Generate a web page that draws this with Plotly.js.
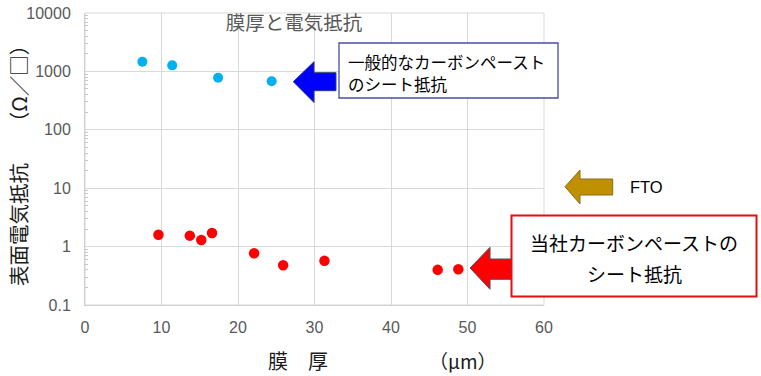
<!DOCTYPE html>
<html>
<head>
<meta charset="utf-8">
<script src="https://cdn.plot.ly/plotly-3.0.1.min.js"></script>
<style>html,body{margin:0;padding:0;background:#fff;}#chart{width:761px;height:376px;}</style>
</head>
<body>
<div id="chart"></div>
<script>
// ---- Data ----
const generalThickness = [7.5, 11.4, 17.4, 24.4];
const generalResistance = [1460, 1270, 780, 680];
const ourThickness = [9.6, 13.7, 15.2, 16.6, 22.1, 25.9, 31.3, 46.1, 48.8];
const ourResistance = [1.6, 1.54, 1.3, 1.71, 0.77, 0.48, 0.57, 0.40, 0.41];
const yTickVals = [0.1, 1, 10, 100, 1000, 10000];
const yTickText = ['0.1', '1', '10', '100', '1000', '10000'];
const yMinorDigits = [2, 3, 4, 5, 6, 7, 8, 9];
const yMinorDecades = [0.1, 1, 10, 100, 1000];
const chartTitle = '膜厚と電気抵抗';
const yTitleMain = '表面電気抵抗';
const yTitleUnit = '（Ω／□）';
const xTitleMain = '膜　厚';
const xTitleUnit = '（μm）';
const generalLabel1 = '一般的なカーボンペースト';
const generalLabel2 = 'のシート抵抗';
const ourLabel1 = '当社カーボンペーストの';
const ourLabel2 = 'シート抵抗';
const ftoLabel = 'FTO';

const yMinorVals = [];
yMinorDecades.forEach(d => yMinorDigits.forEach(k => yMinorVals.push(d * k)));

// ---- Layout geometry ----
const W = 761, H = 376;
const M = {l: 85, r: 217, t: 13, b: 71};
const PW = W - M.l - M.r, PH = H - M.t - M.b;
const px = x => (x - M.l) / PW;
const py = y => (H - M.b - y) / PH;
function arrowPath(pts) {
  return 'M' + pts.map(p => px(p[0]).toFixed(4) + ',' + py(p[1]).toFixed(4)).join(' L') + ' Z';
}

const cjk = '"Noto Sans CJK JP", "Noto Sans", sans-serif';
const latin = '"Liberation Sans", Arial, sans-serif';

const traces = [
  {x: generalThickness, y: generalResistance, type: 'scatter', mode: 'markers',
   marker: {color: '#00b0f0', size: 10}, hoverinfo: 'skip'},
  {x: ourThickness, y: ourResistance, type: 'scatter', mode: 'markers',
   marker: {color: '#ff0000', size: 10.5}, hoverinfo: 'skip'}
];

const layout = {
  width: W, height: H,
  margin: M,
  paper_bgcolor: '#fff', plot_bgcolor: '#fff',
  showlegend: false,
  font: {family: latin, color: '#595959'},
  title: {text: chartTitle, font: {family: cjk, size: 19.5, color: '#595959'},
          xref: 'container', yref: 'container', x: 294 / W, y: 1 - 23 / H,
          xanchor: 'center', yanchor: 'middle'},
  xaxis: {range: [0, 60], dtick: 10, showgrid: true, gridcolor: '#d9d9d9', gridwidth: 1,
          zeroline: false, showline: true, linecolor: '#cfcfcf', linewidth: 1,
          tickfont: {family: latin, size: 16, color: '#595959'}, ticks: '', ticklabelstandoff: 8},
  yaxis: {type: 'log', range: [-1, 4], tickmode: 'array', tickvals: yTickVals, ticktext: yTickText,
          showgrid: true, gridcolor: '#d9d9d9', gridwidth: 1,
          zeroline: false, showline: true, linecolor: '#cfcfcf', linewidth: 1,
          tickfont: {family: latin, size: 16, color: '#595959'}, ticks: '', ticklabelstandoff: 10,
          minor: {tickmode: 'array', tickvals: yMinorVals, ticks: 'inside', ticklen: 3,
                  tickcolor: '#c8c8c8', tickwidth: 1, showgrid: false}},
  shapes: [
    {type: 'rect', xref: 'paper', yref: 'paper', layer: 'below',
     x0: 0, x1: 1, y0: 0, y1: 1, line: {color: '#d9d9d9', width: 1}},
    {type: 'path', xref: 'paper', yref: 'paper', layer: 'above',
     path: arrowPath([[293.3, 81.7], [314, 61.7], [314, 72.7], [336, 72.7], [336, 90.7], [314, 90.7], [314, 102.5]]),
     fillcolor: '#0000ff', line: {color: '#2e3a6e', width: 1}},
    {type: 'rect', xref: 'paper', yref: 'paper', layer: 'above',
     x0: px(339), x1: px(558), y0: py(43), y1: py(98),
     fillcolor: '#ffffff', line: {color: '#4b4ba8', width: 1.3}},
    {type: 'path', xref: 'paper', yref: 'paper', layer: 'above',
     path: arrowPath([[565, 186.7], [580, 170], [580, 179], [612.7, 179], [612.7, 195], [580, 195], [580, 204]]),
     fillcolor: '#bf9000', line: {color: '#8c6d1f', width: 1}},
    {type: 'path', xref: 'paper', yref: 'paper', layer: 'above',
     path: arrowPath([[470, 268], [490, 247.3], [490, 259], [512, 259], [512, 279.3], [490, 279.3], [490, 289.3]]),
     fillcolor: '#ff0000', line: {color: '#44546a', width: 1}},
    {type: 'rect', xref: 'paper', yref: 'paper', layer: 'above',
     x0: px(511.5), x1: px(756.5), y0: py(215.5), y1: py(296.5),
     fillcolor: '#ffffff', line: {color: '#e01010', width: 2}}
  ],
  annotations: [
    {text: generalLabel1, xref: 'paper', yref: 'paper', x: px(346), y: py(62),
     xanchor: 'left', yanchor: 'middle', align: 'left', showarrow: false,
     font: {family: cjk, size: 16.5, color: '#000'}},
    {text: generalLabel2, xref: 'paper', yref: 'paper', x: px(346), y: py(83.5),
     xanchor: 'left', yanchor: 'middle', align: 'left', showarrow: false,
     font: {family: cjk, size: 16.5, color: '#000'}},
    {text: ftoLabel, xref: 'paper', yref: 'paper', x: px(628), y: py(187),
     xanchor: 'left', yanchor: 'middle', showarrow: false,
     font: {family: latin, size: 16.5, color: '#000'}},
    {text: ourLabel1, xref: 'paper', yref: 'paper', x: px(634), y: py(242),
     xanchor: 'center', yanchor: 'middle', showarrow: false,
     font: {family: cjk, size: 19, color: '#000'}},
    {text: ourLabel2, xref: 'paper', yref: 'paper', x: px(634), y: py(273),
     xanchor: 'center', yanchor: 'middle', showarrow: false,
     font: {family: cjk, size: 19, color: '#000'}},
    {text: yTitleMain + '　　' + yTitleUnit,
     xref: 'paper', yref: 'paper', x: px(18), y: py(161),
     xanchor: 'center', yanchor: 'middle', textangle: -90, showarrow: false,
     font: {family: cjk, size: 20.5, color: '#1a1a1a'}},
    {text: xTitleMain, xref: 'paper', yref: 'paper', x: px(298), y: py(360),
     xanchor: 'center', yanchor: 'middle', showarrow: false,
     font: {family: cjk, size: 20, color: '#1a1a1a'}},
    {text: xTitleUnit, xref: 'paper', yref: 'paper', x: px(463), y: py(360),
     xanchor: 'center', yanchor: 'middle', showarrow: false,
     font: {family: cjk, size: 19, color: '#1a1a1a'}}
  ]
};

Plotly.newPlot('chart', traces, layout, {staticPlot: true, displayModeBar: false});
</script>
</body>
</html>
